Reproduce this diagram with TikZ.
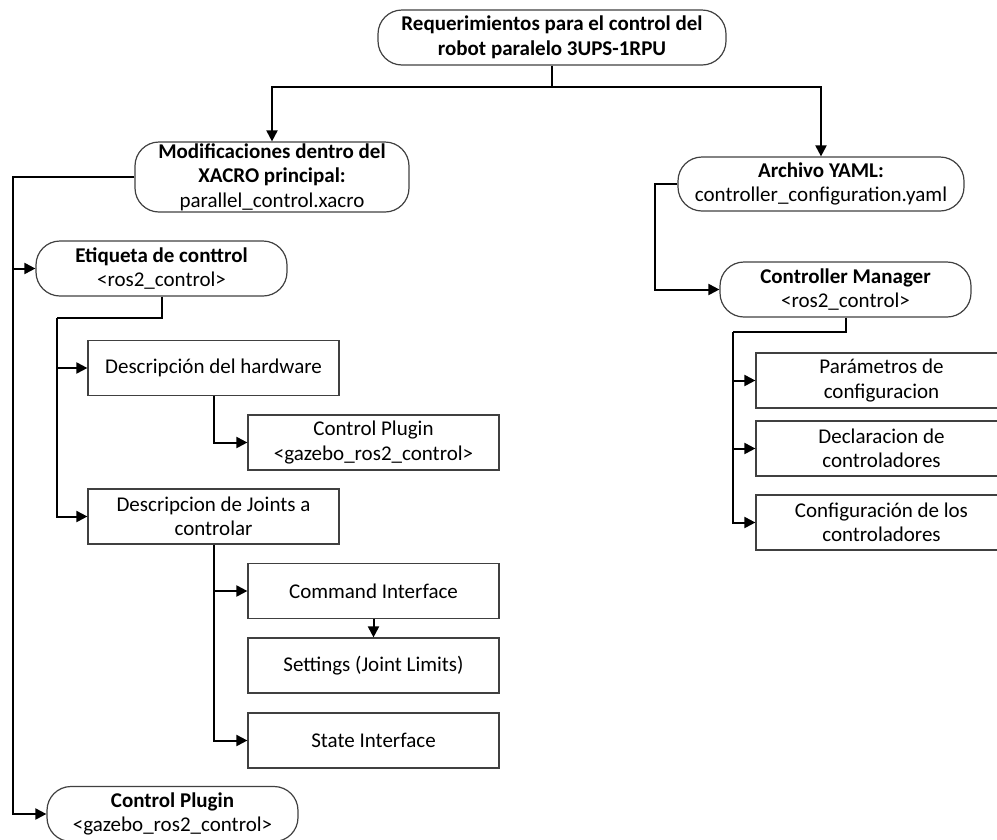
\documentclass[tikz,border=0pt]{standalone}
\usepackage{fontspec}
\setmainfont{Carlito}
\usepackage{tikz}
\usetikzlibrary{arrows.meta}
\tikzstyle{block} = [rectangle, draw=black!75, line width=1.2pt,
align=center, minimum width=251pt, minimum height=55pt, inner sep=0pt]
\tikzstyle{pill} = [rectangle, draw=black!75, line width=1.2pt, rounded corners=24pt,
align=center, minimum width=251pt, minimum height=55pt, inner sep=0pt]
\tikzstyle{line} = [draw, line width=2pt, -{Triangle[length=11pt,width=11pt]}]
\tikzstyle{wire} = [draw, line width=2pt]

\begin{document}
\begin{tikzpicture}[x=1pt, y=-1pt, font=\fontsize{21}{24.5}\selectfont]
    \useasboundingbox (0,0) rectangle (997,839);
    % Nodes, left branch
    \node [pill, minimum width=348pt] (requerimientos) at (552,37.5) {\textbf{Requerimientos para el control del}\\\textbf{robot paralelo 3UPS-1RPU}};
    \node [pill, minimum width=274pt, minimum height=70pt] (modificaciones) at (272,177) {\textbf{Modificaciones dentro del}\\\textbf{XACRO principal:}\\parallel\_control.xacro};
    \node [pill] (etiqueta) at (161.5,268.5) {\textbf{Etiqueta de conttrol}\\<ros2\_control>};
    \node [block] (hardware) at (213.5,368) {Descripción del hardware};
    \node [block] (plugin) at (373.5,442.5) {Control Plugin\\<gazebo\_ros2\_control>};
    \node [block] (joints) at (213.5,516.5) {Descripcion de Joints a\\controlar};
    \node [block] (command) at (373.5,591) {Command Interface};
    \node [block] (settings) at (373.5,665.5) {Settings (Joint Limits)};
    \node [block] (state) at (373.5,740.5) {State Interface};
    \node [pill] (plugin_gz) at (172.5,814) {\textbf{Control Plugin}\\<gazebo\_ros2\_control>};

    % Nodes, right branch
    \node [pill, minimum width=286pt, minimum height=54pt] (archivo) at (821,184) {\textbf{Archivo YAML:}\\controller\_configuration.yaml};
    \node [pill] (manager) at (845.5,289.5) {\textbf{Controller Manager}\\<ros2\_control>};
    \node [block] (parametros) at (881.5,380.5) {Parámetros de\\configuracion};
    \node [block] (declaracion) at (881.5,448.5) {Declaracion de\\controladores};
    \node [block] (configuracion) at (881.5,522.5) {Configuración de los\\controladores};

    % rails
    \coordinate (split) at (552,87);
    \coordinate (railA) at (13,177);
    \coordinate (railB) at (57,318);
    \coordinate (railC) at (655,184);
    \coordinate (railD) at (733,332);

    % arrows
    \draw[wire] (requerimientos.south) -- (split);
    \draw[line] (split) -| (modificaciones.north);
    \draw[line] (split) -| (archivo.north);

    \draw[line] (modificaciones.west) -- (railA) |- (plugin_gz.west);
    \draw[line] (railA |- etiqueta.west) -- (etiqueta.west);

    \draw[wire] (etiqueta.south) |- (railB);
    \draw[line] (railB) |- (joints.west);
    \draw[line] (railB |- hardware.west) -- (hardware.west);

    \draw[line] (hardware.south) |- (plugin.west);
    \draw[line] (joints.south) |- (state.west);
    \draw[line] (joints.south |- command.west) -- (command.west);
    \draw[line] (command.south) -- (settings.north);

    \draw[line] (archivo.west) -- (railC) |- (manager.west);
    \draw[wire] (manager.south) |- (railD);
    \draw[line] (railD) |- (configuracion.west);
    \draw[line] (railD |- parametros.west) -- (parametros.west);
    \draw[line] (railD |- declaracion.west) -- (declaracion.west);
\end{tikzpicture}
\end{document}
